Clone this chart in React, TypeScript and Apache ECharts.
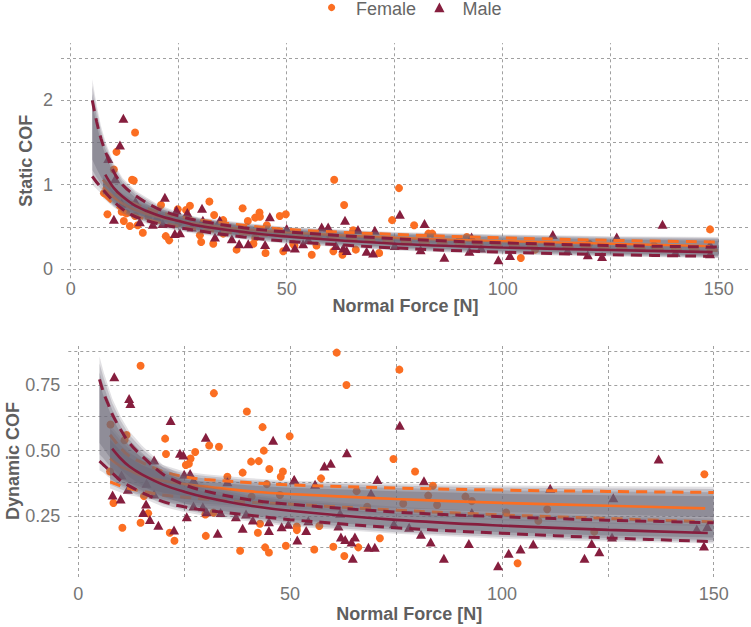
import { useEffect, useRef } from 'react';
import * as echarts from 'echarts';

const FEMALE = '#FB6E22';
const MALE = '#861E3E';
const RIB = '108,105,120';
const FONT = 'Liberation Sans, Arial, sans-serif';

// ---------- Static COF (top) ----------
const topFemalePts: number[][] = [
  [14.9,1.62],[10.6,1.39],[10.0,1.18],[14.2,1.06],[14.6,1.05],[7.7,0.90],[8.5,0.65],[12.3,0.57],[13.7,0.51],[15.5,0.52],
  [16.7,0.43],[12.9,0.66],[14.9,0.63],[11.8,0.68],[20.9,0.76],[22.0,0.39],[22.8,0.34],[24.8,0.71],[27.6,0.75],[26.7,0.70],
  [32.1,0.80],[33.2,0.64],[29.9,0.40],[30.2,0.32],[33.0,0.30],[35.3,0.58],[35.3,0.42],[38.4,0.23],[39.8,0.72],[41.0,0.57],
  [42.7,0.61],[43.7,0.67],[43.8,0.62],[45.4,0.52],[45.1,0.19],[48.4,0.63],[49.8,0.65],[49.2,0.21],[51.5,0.30],[51.8,0.28],
  [55.8,0.17],[56.9,0.28],[61.0,1.06],[63.3,0.76],[60.8,0.21],[62.9,0.17],[65.4,0.46],[66.0,0.23],[71.4,0.19],[74.4,0.58],
  [76.0,0.96],[79.5,0.52],[82.8,0.42],[83.7,0.42],[91.7,0.38],[104.2,0.13],[107.5,0.23],[148.0,0.47],[42.3,0.30],[42.7,0.37],
  [18.0,0.62],[25.0,0.55],[40.0,0.45],[60.0,0.40],[90.0,0.34],[120.0,0.30],[135.0,0.28]
];
const topMalePts: number[][] = [
  [12.2,1.79],[11.4,1.47],[8.7,1.31],[10.3,1.07],[21.8,0.85],[11.8,0.78],[10.0,0.59],[16.0,0.56],[19.0,0.53],[21.3,0.54],
  [24.5,0.70],[25.3,0.43],[24.1,0.42],[27.0,0.67],[30.4,0.72],[30.6,0.58],[34.5,0.58],[33.4,0.38],[37.3,0.36],[39.0,0.30],
  [41.1,0.30],[45.0,0.29],[46.1,0.62],[49.9,0.26],[51.9,0.25],[50.0,0.48],[58.1,0.50],[59.6,0.50],[63.5,0.58],[63.1,0.25],
  [63.9,0.22],[61.4,0.28],[66.5,0.47],[68.5,0.21],[70.4,0.46],[70.0,0.19],[76.2,0.65],[81.9,0.54],[81.0,0.23],[86.5,0.14],
  [92.3,0.21],[92.8,0.38],[99.0,0.11],[101.7,0.16],[111.6,0.41],[119.7,0.17],[123.0,0.15],[126.4,0.38],[137.0,0.53],[148.0,0.18],
  [148.0,0.29],[53.8,0.30],[15.0,0.80],[20.0,0.62],[28.0,0.50],[35.0,0.45],[55.0,0.35],[75.0,0.28],[95.0,0.25],[115.0,0.22],[140.0,0.20]
];

const topMaleRibX = [5,6,7,8,10,12,15,20,25,30,40,50,75,100,125,150];
const topMaleRibHi = [2.25,1.95,1.70,1.52,1.25,1.08,0.93,0.77,0.67,0.60,0.52,0.47,0.385,0.33,0.29,0.262];
const topMaleRibLo = [1.00,0.95,0.90,0.85,0.75,0.67,0.58,0.50,0.45,0.41,0.35,0.30,0.22,0.175,0.15,0.13];
const topMaleUp = [2.0,1.75,1.55,1.40,1.15,1.0,0.87,0.72,0.63,0.57,0.49,0.44,0.36,0.31,0.28,0.26];
const topMaleLow = [1.10,1.03,0.97,0.91,0.80,0.71,0.62,0.54,0.49,0.45,0.38,0.33,0.25,0.20,0.17,0.15];
const topMaleFitX = [8,10,12,15,20,25,30,40,50,75,100,125,148.6];
const topMaleFit = [1.12,0.96,0.86,0.75,0.64,0.57,0.51,0.44,0.385,0.30,0.255,0.225,0.20];

const topFemRibX = [7.5,8,10,12,15,20,25,30,40,50,75,100,125,150];
const topFemRibHi = [1.12,1.09,0.98,0.90,0.81,0.72,0.66,0.61,0.55,0.50,0.44,0.41,0.39,0.38];
const topFemRibLo = [0.84,0.82,0.73,0.66,0.60,0.53,0.48,0.44,0.39,0.36,0.30,0.26,0.22,0.20];
const topFemUp = [1.06,1.03,0.93,0.85,0.77,0.68,0.62,0.58,0.52,0.47,0.41,0.37,0.34,0.32];
const topFemLow = [0.88,0.86,0.77,0.70,0.63,0.56,0.51,0.47,0.42,0.39,0.33,0.29,0.25,0.22];
const topFemFitX = [7.5,10,12,15,20,25,30,40,50,75,100,125,148];
const topFemFit = [0.97,0.85,0.78,0.70,0.62,0.57,0.53,0.47,0.43,0.37,0.33,0.30,0.27];

// ---------- Dynamic COF (bottom) ----------
const botFemalePts: number[][] = [
  [14.7,0.825],[32.0,0.72],[39.8,0.65],[43.5,0.59],[49.9,0.555],[20.5,0.546],[11.4,0.56],[30.9,0.52],[33.2,0.515],[20.7,0.487],
  [27.6,0.495],[26.5,0.47],[25.4,0.445],[26.1,0.45],[40.8,0.458],[42.6,0.46],[43.8,0.50],[45.1,0.43],[47.8,0.40],[48.3,0.42],
  [38.8,0.416],[35.2,0.40],[7.5,0.42],[8.3,0.30],[15.5,0.326],[16.5,0.26],[14.7,0.224],[10.4,0.205],[21.6,0.186],[22.7,0.155],
  [30.0,0.256],[31.9,0.263],[30.1,0.174],[38.2,0.117],[42.9,0.22],[42.4,0.186],[44.1,0.13],[45.0,0.11],[49.0,0.136],[51.6,0.196],
  [51.6,0.21],[61.0,0.875],[75.8,0.81],[63.3,0.751],[74.4,0.468],[79.5,0.42],[57.3,0.394],[83.7,0.366],[56.9,0.212],[55.7,0.122],
  [60.2,0.132],[62.8,0.097],[66.1,0.13],[71.2,0.165],[103.7,0.069],[147.8,0.41],[7.6,0.60],[10.9,0.54],[65.7,0.345],[68.2,0.285],
  [76.7,0.298],[82.6,0.328],[84.7,0.292],[91.4,0.324],[101.0,0.263],[110.7,0.276],[108.6,0.232],[121.8,0.19],[44.5,0.372],[47.6,0.33],
  [40.9,0.324],[92.9,0.307]
];
const botMalePts: number[][] = [
  [8.5,0.783],[12.0,0.70],[12.3,0.68],[21.8,0.615],[30.1,0.551],[46.0,0.54],[24.0,0.49],[24.8,0.483],[17.9,0.464],[25.0,0.41],
  [26.4,0.413],[27.2,0.388],[35.2,0.381],[50.9,0.388],[8.1,0.33],[10.0,0.315],[11.7,0.352],[17.9,0.334],[16.0,0.296],[15.3,0.263],
  [16.9,0.237],[18.9,0.215],[22.6,0.196],[25.6,0.247],[27.2,0.288],[29.4,0.285],[30.3,0.266],[33.6,0.263],[32.9,0.184],[37.2,0.247],
  [38.8,0.203],[39.6,0.258],[41.2,0.235],[45.0,0.228],[45.0,0.194],[48.0,0.209],[49.6,0.218],[51.7,0.158],[75.9,0.597],[63.4,0.492],
  [58.1,0.441],[59.6,0.452],[51.0,0.39],[55.9,0.371],[70.6,0.39],[69.1,0.337],[81.6,0.385],[92.9,0.263],[54.3,0.232],[61.4,0.212],
  [53.8,0.194],[62.0,0.17],[63.0,0.16],[65.3,0.17],[64.5,0.15],[68.5,0.13],[70.0,0.13],[64.8,0.088],[80.9,0.18],[83.2,0.15],
  [86.3,0.088],[92.2,0.145],[99.1,0.06],[101.6,0.107],[111.4,0.356],[126.3,0.32],[137.0,0.468],[104.4,0.124],[107.4,0.143],[119.5,0.088],
  [121.2,0.145],[123.0,0.113],[147.7,0.135],[10.2,0.407],[16.1,0.375],[78.1,0.207],[61.8,0.26],[146.0,0.20],[148.5,0.21],[126.0,0.17],[74.5,0.22]
];

const botMaleRibX = [5,6,7,8,10,12,15,20,25,30,40,50,75,100,125,150];
const botMaleRibHi = [0.86,0.80,0.75,0.70,0.63,0.575,0.52,0.445,0.40,0.37,0.335,0.315,0.285,0.265,0.25,0.24];
const botMaleRibLo = [0.425,0.415,0.40,0.39,0.365,0.345,0.32,0.285,0.265,0.25,0.23,0.21,0.182,0.163,0.152,0.145];
const botMaleUp = [0.773,0.72,0.68,0.64,0.58,0.53,0.48,0.41,0.37,0.345,0.313,0.295,0.265,0.247,0.234,0.224];
const botMaleLow = [0.46,0.445,0.43,0.415,0.385,0.365,0.34,0.305,0.285,0.272,0.254,0.236,0.205,0.184,0.166,0.152];
const botMaleFitX = [8,10,12,15,20,25,30,40,50,75,100,125,148.6];
const botMaleFit = [0.508,0.47,0.44,0.409,0.37,0.343,0.322,0.291,0.27,0.235,0.213,0.197,0.185];

const botFemRibX = [7.5,8,10,12,15,20,25,30,40,50,75,100,125,150];
const botFemRibHi = [0.60,0.59,0.55,0.52,0.485,0.445,0.42,0.41,0.395,0.385,0.374,0.367,0.364,0.362];
const botFemRibLo = [0.355,0.352,0.34,0.33,0.32,0.305,0.297,0.29,0.28,0.272,0.25,0.233,0.22,0.21];
const botFemUp = [0.56,0.55,0.51,0.48,0.455,0.42,0.40,0.39,0.378,0.369,0.357,0.349,0.344,0.34];
const botFemLow = [0.38,0.378,0.365,0.355,0.345,0.33,0.322,0.315,0.303,0.295,0.272,0.254,0.24,0.227];
const botFemFitX = [7.5,10,12,15,20,25,30,40,50,75,100,125,148];
const botFemFit = [0.47,0.44,0.425,0.405,0.385,0.372,0.363,0.345,0.334,0.315,0.30,0.289,0.279];

// axes ticks / grid values
const xTickLabels = [0, 50, 100, 150];
const xGridValues = [0, 25, 50, 75, 100, 125, 150];
const topYTickLabels = [0, 1, 2];
const topYGridValues = [0, 0.5, 1, 1.5, 2, 2.5];
const botYTickLabels = [0.25, 0.5, 0.75];
const botYGridValues = [0.125, 0.25, 0.375, 0.5, 0.625, 0.75, 0.875];

function ribbon(g: number, xs: number[], lo: number[], hi: number[], z: number) {
  const layers = [[0, 0.2], [0.06, 0.26], [0.14, 0.32], [0.24, 0.4]];
  return {
    type: 'custom', xAxisIndex: g, yAxisIndex: g, z, silent: true, clip: true,
    data: [[xs[0], lo[0]]],
    encode: { x: 0, y: 1 },
    renderItem: (params: any, api: any) => {
      if (params.dataIndex !== 0) return null;
      const children = layers.map(([t, op]) => {
        const top = xs.map((x, i) => api.coord([x, hi[i] - t * (hi[i] - lo[i])]));
        const bot = xs.map((x, i) => api.coord([x, lo[i] + t * (hi[i] - lo[i])])).reverse();
        return { type: 'polygon', shape: { points: top.concat(bot) }, style: { fill: `rgba(${RIB},${op})` } };
      });
      return { type: 'group', children };
    },
  };
}

function line(g: number, xs: number[], ys: number[], color: string, dashed: boolean, z: number) {
  return {
    type: 'line', xAxisIndex: g, yAxisIndex: g, z, silent: true,
    data: xs.map((x, i) => [x, ys[i]]),
    symbol: 'none', showSymbol: false, smooth: 0.35,
    lineStyle: { color, width: dashed ? 3 : 2.6, type: dashed ? [11, 7] : 'solid', cap: 'butt' },
  };
}

function scatter(g: number, pts: number[][], color: string, tri: boolean) {
  return {
    type: 'scatter', xAxisIndex: g, yAxisIndex: g, z: 2, silent: true,
    data: pts,
    symbol: tri ? 'triangle' : 'circle',
    symbolSize: tri ? [10, 9] : 8,
    itemStyle: { color, opacity: 1 },
  };
}

function gridLines(g: number, yVals: number[]) {
  return {
    type: 'line', xAxisIndex: g, yAxisIndex: g, z: 1, silent: true, data: [],
    markLine: {
      silent: true, z: 1, symbol: ['none', 'none'], label: { show: false },
      lineStyle: { color: '#a0a0a0', width: 1, type: [3, 3] },
      emphasis: { disabled: true },
      data: [...yVals.map((v) => ({ yAxis: v })), ...xGridValues.map((v) => ({ xAxis: v }))],
    },
  };
}

const tickLabel = { color: '#757575', fontSize: 18, fontFamily: FONT };
const nameStyle = { color: '#5f5f5f', fontSize: 18, fontWeight: 'bold', fontFamily: FONT };

export default function App() {
  const ref = useRef<HTMLDivElement>(null);
  useEffect(() => {
    if (!ref.current) return;
    const chart = echarts.init(ref.current, undefined, { renderer: 'svg' });
    const option: any = {
      animation: false,
      backgroundColor: '#ffffff',
      grid: [
        { left: 61, top: 43.1, width: 689, height: 235.2, containLabel: false, outerBoundsMode: 'none' },
        { left: 68.3, top: 345, width: 681.7, height: 232, containLabel: false, outerBoundsMode: 'none' },
      ],
      xAxis: [
        {
          gridIndex: 0, type: 'value', min: -2.245, max: 157.25,
          axisLine: { show: false }, axisTick: { show: false }, splitLine: { show: false },
          axisLabel: { ...tickLabel, margin: 2, customValues: xTickLabels },
          name: 'Normal Force [N]', nameLocation: 'middle', nameGap: 19, nameMoveOverlap: false, nameTextStyle: nameStyle,
        },
        {
          gridIndex: 1, type: 'value', min: -2.36, max: 158.57,
          axisLine: { show: false }, axisTick: { show: false }, splitLine: { show: false },
          axisLabel: { ...tickLabel, margin: 8, customValues: xTickLabels },
          name: 'Normal Force [N]', nameLocation: 'middle', nameGap: 28, nameMoveOverlap: false, nameTextStyle: nameStyle,
        },
      ],
      yAxis: [
        {
          gridIndex: 0, type: 'value', min: -0.11, max: 2.68,
          axisLine: { show: false }, axisTick: { show: false }, splitLine: { show: false },
          axisLabel: { ...tickLabel, margin: 8, customValues: topYTickLabels },
          name: 'Static COF', nameLocation: 'middle', nameGap: 26, nameMoveOverlap: false, nameTextStyle: nameStyle,
        },
        {
          gridIndex: 1, type: 'value', min: 0.0165, max: 0.9043,
          axisLine: { show: false }, axisTick: { show: false }, splitLine: { show: false },
          axisLabel: { ...tickLabel, margin: 8, customValues: botYTickLabels, formatter: (v: number) => v.toFixed(2) },
          name: 'Dynamic COF', nameLocation: 'middle', nameGap: 46, nameMoveOverlap: false, nameTextStyle: nameStyle,
        },
      ],
      graphic: [
        { type: 'circle', shape: { cx: 331.6, cy: 7.5, r: 3.6 }, style: { fill: FEMALE } },
        { type: 'text', x: 356, y: 0, style: { text: 'Female', fill: '#666666', font: `18px ${FONT}`, verticalAlign: 'top' } },
        { type: 'polygon', shape: { points: [[434.3, 12.2], [444.5, 12.2], [439.4, 2.4]] }, style: { fill: MALE } },
        { type: 'text', x: 462.5, y: 0, style: { text: 'Male', fill: '#666666', font: `18px ${FONT}`, verticalAlign: 'top' } },
      ],
      series: [
        gridLines(0, topYGridValues),
        gridLines(1, botYGridValues),
        scatter(0, topFemalePts, FEMALE, false),
        scatter(0, topMalePts, MALE, true),
        scatter(1, botFemalePts, FEMALE, false),
        scatter(1, botMalePts, MALE, true),
        ribbon(0, topFemRibX, topFemRibLo, topFemRibHi, 3),
        line(0, topFemRibX, topFemUp, FEMALE, true, 4),
        line(0, topFemRibX, topFemLow, FEMALE, true, 4),
        line(0, topFemFitX, topFemFit, FEMALE, false, 4),
        ribbon(0, topMaleRibX, topMaleRibLo, topMaleRibHi, 5),
        line(0, topMaleRibX, topMaleUp, MALE, true, 6),
        line(0, topMaleRibX, topMaleLow, MALE, true, 6),
        line(0, topMaleFitX, topMaleFit, MALE, false, 6),
        ribbon(1, botFemRibX, botFemRibLo, botFemRibHi, 3),
        line(1, botFemRibX, botFemUp, FEMALE, true, 4),
        line(1, botFemRibX, botFemLow, FEMALE, true, 4),
        line(1, botFemFitX, botFemFit, FEMALE, false, 4),
        ribbon(1, botMaleRibX, botMaleRibLo, botMaleRibHi, 5),
        line(1, botMaleRibX, botMaleUp, MALE, true, 6),
        line(1, botMaleRibX, botMaleLow, MALE, true, 6),
        line(1, botMaleFitX, botMaleFit, MALE, false, 6),
      ],
    };
    chart.setOption(option);
    return () => chart.dispose();
  }, []);
  return <div ref={ref} style={{ width: 751, height: 627, position: 'absolute', left: 0, top: 0 }} />;
}
